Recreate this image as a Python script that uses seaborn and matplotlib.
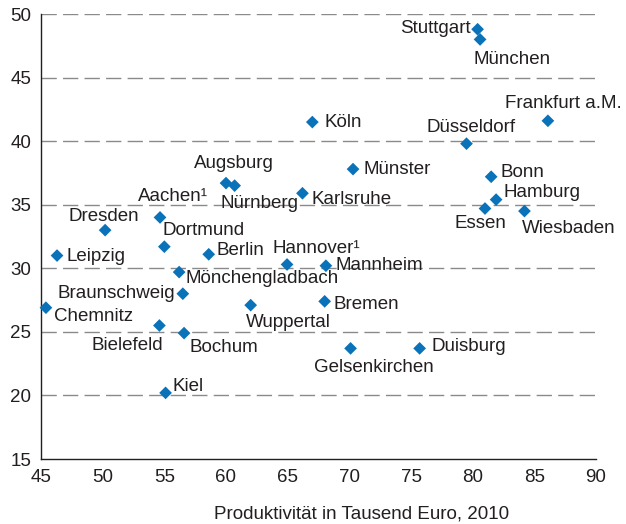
import matplotlib
matplotlib.use("Agg")
import matplotlib.pyplot as plt
import seaborn as sns
import pandas as pd

cities = ["Stuttgart", "München", "Frankfurt a.M.", "Köln", "Düsseldorf", "Münster",
          "Bonn", "Hamburg", "Essen", "Wiesbaden", "Karlsruhe", "Augsburg", "Nürnberg",
          "Aachen¹", "Dresden", "Dortmund", "Leipzig", "Berlin", "Hannover¹", "Mannheim",
          "Mönchengladbach", "Braunschweig", "Bremen", "Chemnitz", "Wuppertal",
          "Bielefeld", "Bochum", "Gelsenkirchen", "Duisburg", "Kiel"]
productivity = [80.4, 80.6, 86.1, 67.0, 79.5, 70.3,
                81.5, 81.9, 81.0, 84.2, 66.2, 60.0, 60.7,
                54.65, 50.2, 55.0, 46.3, 58.6, 64.95, 68.1,
                56.2, 56.5, 68.0, 45.4, 62.0,
                54.6, 56.6, 70.1, 75.7, 55.1]
yvalues = [48.8, 48.0, 41.6, 41.5, 39.8, 37.8,
           37.2, 35.4, 34.7, 34.5, 35.9, 36.7, 36.5,
           34.0, 33.0, 31.7, 31.0, 31.1, 30.3, 30.2,
           29.7, 28.0, 27.4, 26.9, 27.1,
           25.5, 24.9, 23.7, 23.7, 20.2]
x_ticks = [45, 50, 55, 60, 65, 70, 75, 80, 85, 90]
y_ticks = [15, 20, 25, 30, 35, 40, 45, 50]
x_label = "Produktivität in Tausend Euro, 2010"

# label placement: (dx px, dy px, ha)
label_pos = {
    "Stuttgart": (-7, 1, "right"), "München": (-7, -20, "left"),
    "Frankfurt a.M.": (15, 17, "center"), "Köln": (12, 0, "left"),
    "Düsseldorf": (5, 16, "center"), "Münster": (10, 0, "left"),
    "Bonn": (9, 4, "left"), "Hamburg": (7, 7, "left"),
    "Essen": (-5, -15, "center"), "Wiesbaden": (-3, -17, "left"),
    "Karlsruhe": (9, -6, "left"), "Augsburg": (8, 20, "center"),
    "Nürnberg": (-14, -18, "left"), "Aachen¹": (13, 21, "center"),
    "Dresden": (-1, 14, "center"), "Dortmund": (-2, 16, "left"),
    "Leipzig": (9, -1, "left"), "Berlin": (8, 4, "left"),
    "Hannover¹": (-15, 16, "left"), "Mannheim": (10, 0, "left"),
    "Mönchengladbach": (6, -6, "left"), "Braunschweig": (-8, 0, "right"),
    "Bremen": (9, -3, "left"), "Chemnitz": (8, -9, "left"),
    "Wuppertal": (-5, -17, "left"), "Bielefeld": (4, -20, "right"),
    "Bochum": (5, -14, "left"), "Gelsenkirchen": (23, -19, "center"),
    "Duisburg": (12, 2, "left"), "Kiel": (7, 6, "left"),
}

df = pd.DataFrame({"city": cities, "x": productivity, "y": yvalues})

sns.set_style("white")
plt.rcParams["font.family"] = ["Liberation Sans", "DejaVu Sans"]
text_color = "#231f20"

fig = plt.figure(figsize=(6.26, 5.24), dpi=100)
ax = fig.add_axes([41/626, 1 - 459/524, (596 - 41)/626, (459 - 14)/524])

for yv in y_ticks[1:]:
    ax.axhline(yv, color="#8a8a8a", lw=1.0, dashes=(11, 4.5), zorder=0)

sns.scatterplot(data=df, x="x", y="y", marker="D", s=42, color="#0a72b8",
                edgecolor="none", ax=ax, zorder=3, clip_on=False)

for c, xv, yv in zip(cities, productivity, yvalues):
    dx, dy, ha = label_pos[c]
    ax.annotate(c, (xv, yv), xytext=(dx, dy), textcoords="offset pixels",
                ha=ha, va="center", fontsize=13.5, color=text_color, zorder=4)

ax.set_xlim(45, 90)
ax.set_ylim(15, 50)
ax.set_xticks(x_ticks)
ax.set_yticks(y_ticks)
ax.tick_params(axis="both", direction="out", length=4, width=1, color="#231f20",
               labelsize=13.5, labelcolor=text_color, pad=3)
ax.set_xlabel(x_label, fontsize=13.5, color=text_color)
ax.xaxis.set_label_coords(0.577, -0.105)
ax.set_ylabel("")
for s in ["top", "right"]:
    ax.spines[s].set_visible(False)
for s in ["left", "bottom"]:
    ax.spines[s].set_color("#231f20")
    ax.spines[s].set_linewidth(1.0)

fig.savefig("out.png", dpi=100)
